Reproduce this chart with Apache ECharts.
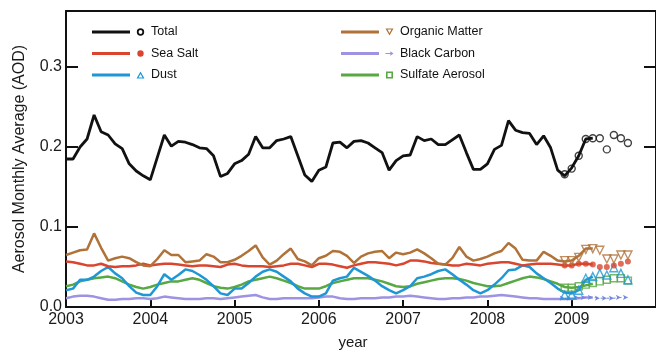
<!DOCTYPE html>
<html>
<head>
<meta charset="utf-8">
<script src="https://cdn.jsdelivr.net/npm/echarts@6/dist/echarts.min.js"></script>
<style>
html,body{margin:0;padding:0;background:#ffffff;}
#chart{width:656px;height:355px;}
</style>
</head>
<body>
<div id="chart"></div>
<script>
// ---- data (monthly, index 0 = Jan 2003) ----
const seriesNames = ['Total', 'Sea Salt', 'Dust', 'Organic Matter', 'Black Carbon', 'Sulfate Aerosol'];
const yearTickLabels = ['2003', '2004', '2005', '2006', '2007', '2008', '2009'];
const firstYear = 2003;
const markerStartIndex = 71; // Dec 2008: start of the marker (preliminary) values

const totalLine = [
  0.185,0.185,0.200,0.210,0.240,0.219,0.215,0.204,0.198,0.179,0.170,0.164,
  0.159,0.187,0.215,0.201,0.207,0.206,0.203,0.199,0.198,0.189,0.163,0.167,
  0.179,0.183,0.191,0.213,0.199,0.199,0.208,0.210,0.213,0.189,0.165,0.157,
  0.171,0.175,0.205,0.206,0.199,0.207,0.208,0.205,0.199,0.193,0.171,0.183,
  0.189,0.190,0.213,0.208,0.210,0.203,0.203,0.209,0.215,0.193,0.172,0.172,
  0.179,0.197,0.202,0.233,0.221,0.218,0.217,0.203,0.214,0.199,0.171,0.164,
  0.174,0.189,0.210,0.211];
const totalMarks = [0.166,0.173,0.189,0.210,0.211,0.211,0.197,0.215,0.211,0.205];

const seaSaltLine = [
  0.057,0.056,0.054,0.052,0.052,0.054,0.051,0.050,0.051,0.051,0.052,0.054,
  0.052,0.053,0.054,0.054,0.053,0.052,0.051,0.052,0.052,0.051,0.050,0.053,
  0.054,0.052,0.051,0.051,0.051,0.050,0.051,0.052,0.054,0.054,0.052,0.050,
  0.054,0.054,0.053,0.051,0.049,0.052,0.054,0.056,0.056,0.055,0.054,0.052,
  0.054,0.058,0.058,0.057,0.055,0.054,0.053,0.052,0.052,0.054,0.053,0.052,
  0.054,0.055,0.056,0.056,0.054,0.052,0.053,0.054,0.054,0.054,0.053,0.052,
  0.052,0.054,0.054,0.053];
const seaSaltMarks = [0.052,0.052,0.054,0.054,0.053,0.050,0.050,0.052,0.054,0.057];

const dustLine = [
  0.021,0.023,0.034,0.034,0.038,0.045,0.050,0.042,0.036,0.026,0.018,0.015,
  0.015,0.026,0.041,0.034,0.040,0.047,0.045,0.040,0.034,0.026,0.017,0.015,
  0.023,0.023,0.030,0.038,0.044,0.047,0.044,0.038,0.032,0.023,0.017,0.013,
  0.013,0.017,0.033,0.036,0.038,0.049,0.044,0.039,0.033,0.026,0.021,0.017,
  0.021,0.026,0.036,0.038,0.041,0.045,0.047,0.041,0.034,0.028,0.021,0.017,
  0.021,0.028,0.036,0.046,0.047,0.052,0.050,0.042,0.036,0.030,0.023,0.018,
  0.017,0.021,0.034,0.038];
const dustMarks = [0.015,0.015,0.021,0.036,0.038,0.042,0.040,0.049,0.042,0.034];

const organicLine = [
  0.065,0.068,0.071,0.072,0.092,0.074,0.058,0.061,0.063,0.061,0.056,0.052,
  0.051,0.060,0.071,0.065,0.065,0.056,0.057,0.058,0.066,0.063,0.056,0.056,
  0.059,0.064,0.070,0.077,0.062,0.053,0.058,0.066,0.073,0.060,0.057,0.052,
  0.061,0.064,0.070,0.069,0.064,0.055,0.063,0.067,0.069,0.070,0.061,0.068,
  0.066,0.068,0.072,0.067,0.061,0.054,0.053,0.061,0.075,0.063,0.058,0.060,
  0.063,0.067,0.070,0.080,0.073,0.059,0.058,0.058,0.069,0.064,0.058,0.057,
  0.058,0.064,0.073,0.073];
const organicMarks = [0.058,0.058,0.062,0.072,0.073,0.071,0.060,0.060,0.065,0.065];

const blackCarbonLine = [
  0.011,0.013,0.014,0.014,0.013,0.011,0.009,0.009,0.010,0.010,0.011,0.011,
  0.010,0.011,0.013,0.012,0.011,0.010,0.010,0.010,0.011,0.011,0.010,0.011,
  0.012,0.013,0.014,0.015,0.012,0.010,0.010,0.011,0.011,0.011,0.011,0.011,
  0.012,0.013,0.013,0.011,0.010,0.010,0.011,0.011,0.011,0.012,0.012,0.013,
  0.013,0.014,0.013,0.012,0.011,0.010,0.010,0.011,0.011,0.012,0.012,0.013,
  0.013,0.014,0.015,0.014,0.013,0.012,0.011,0.011,0.010,0.010,0.010,0.010,
  0.010,0.011,0.012,0.012];
const blackCarbonMarks = [0.011,0.011,0.012,0.012,0.012,0.011,0.011,0.011,0.012,0.012];

const sulfateLine = [
  0.026,0.028,0.032,0.034,0.036,0.037,0.038,0.036,0.032,0.028,0.025,0.023,
  0.025,0.028,0.030,0.032,0.032,0.034,0.036,0.034,0.030,0.026,0.024,0.023,
  0.025,0.028,0.032,0.034,0.036,0.038,0.036,0.033,0.030,0.026,0.023,0.023,
  0.023,0.026,0.030,0.032,0.034,0.036,0.036,0.036,0.034,0.032,0.029,0.026,
  0.025,0.026,0.029,0.031,0.033,0.035,0.036,0.036,0.035,0.033,0.030,0.028,
  0.026,0.026,0.027,0.030,0.033,0.036,0.038,0.037,0.035,0.032,0.029,0.025,
  0.024,0.025,0.027,0.029];
const sulfateMarks = [0.024,0.024,0.026,0.028,0.030,0.032,0.034,0.036,0.036,0.033];

// ---- styling ----
const FONT = "'Liberation Sans', Arial, Helvetica, sans-serif";
const C = {
  total: '#111111', salt: '#d9452f', dust: '#1f97d4',
  organic: '#b07238', bc: '#9d93e2', bcMark: '#7488e0', sulfate: '#58a843'
};

function monthToYear(i) { return firstYear + i / 12; }
function pairs(values, start) { return values.map((v, k) => [monthToYear(start + k), v]); }

// legend icon paths: line segment + marker, width 54 x height 10
const BOX = 'M0,0L0,0M54,10L54,10';
const LINE = 'M0,3.5L38,3.5L38,6.5L0,6.5Z';
const icons = {
  total: 'path://' + BOX + LINE + 'M44.8,5A3.7,3.7 0 1,1 52.2,5A3.7,3.7 0 1,1 44.8,5ZM46.6,5A1.9,1.9 0 1,0 50.4,5A1.9,1.9 0 1,0 46.6,5Z',
  salt: 'path://' + BOX + LINE + 'M45.3,5A3.2,3.2 0 1,1 51.7,5A3.2,3.2 0 1,1 45.3,5Z',
  dust: 'path://' + BOX + LINE + 'M44.5,8.5L48.5,1.5L52.5,8.5ZM46.5,7.4L50.5,7.4L48.5,3.9Z',
  organic: 'path://' + BOX + LINE + 'M44.5,1.5L52.5,1.5L48.5,8.5ZM46.5,2.6L48.5,6.1L50.5,2.6Z',
  bc: 'path://' + BOX + LINE + 'M44.5,4.4L49.3,4.4L49.3,2.8L52.5,5L49.3,7.2L49.3,5.6L44.5,5.6Z',
  sulfate: 'path://' + BOX + LINE + 'M45,1.5L52,1.5L52,8.5L45,8.5ZM46.6,3.1L46.6,6.9L50.4,6.9L50.4,3.1Z'
};

function legendCol(left, items) {
  return {
    orient: 'vertical', left: left, top: 24, padding: 0,
    itemWidth: 54, itemHeight: 10, itemGap: 5.5,
    itemStyle: { borderWidth: 0 },
    textStyle: { fontFamily: FONT, fontSize: 12.5, color: '#111', lineHeight: 16 },
    data: items
  };
}

const lineSeries = (name, data, color, width, z) => ({
  name: name, type: 'line', data: pairs(data, 0), symbol: 'none', showSymbol: false,
  lineStyle: { color: color, width: width }, itemStyle: { color: color }, z: z, silent: true
});
const markSeries = (name, data, symbol, size, style, rotate, z) => ({
  name: name, type: 'scatter', data: pairs(data, markerStartIndex), symbol: symbol,
  symbolSize: size, symbolRotate: rotate || 0, itemStyle: style, z: z, silent: true
});
const hollow = (c) => ({ color: 'rgba(255,255,255,0)', borderColor: c, borderWidth: 1.4 });

const option = {
  animation: false,
  backgroundColor: '#ffffff',
  grid: { left: 66, right: -9, top: 11, bottom: 39, containLabel: false },
  legend: [
    legendCol(92, [
      { name: seriesNames[0], icon: icons.total, itemStyle: { color: C.total } },
      { name: seriesNames[1], icon: icons.salt, itemStyle: { color: C.salt } },
      { name: seriesNames[2], icon: icons.dust, itemStyle: { color: C.dust } }
    ]),
    legendCol(341, [
      { name: seriesNames[3], icon: icons.organic, itemStyle: { color: C.organic } },
      { name: seriesNames[4], icon: icons.bc, itemStyle: { color: C.bc } },
      { name: seriesNames[5], icon: icons.sulfate, itemStyle: { color: C.sulfate } }
    ])
  ],
  xAxis: [
    {
      type: 'value', position: 'bottom', min: 2003, max: 2010, interval: 1,
      axisLine: { show: true, onZero: false, lineStyle: { color: '#111', width: 2 } },
      axisTick: { show: true, inside: true, length: 7, lineStyle: { color: '#111', width: 2 } },
      axisLabel: {
        showMaxLabel: false, margin: 5, fontFamily: FONT, fontSize: 16, color: '#1a1a1a',
        formatter: (v) => { const k = Math.round(v) - firstYear; return yearTickLabels[k] || ''; }
      },
      splitLine: { show: false },
      name: 'year', nameLocation: 'middle', nameGap: 28,
      nameTextStyle: { fontFamily: FONT, fontSize: 15, color: '#1a1a1a', padding: [0, 16, 0, 0] }
    },
    {
      type: 'value', position: 'top', min: 2003, max: 2010, interval: 1,
      axisLine: { show: true, onZero: false, lineStyle: { color: '#111', width: 2 } },
      axisTick: { show: false }, axisLabel: { show: false }, splitLine: { show: false }
    }
  ],
  yAxis: [
    {
      type: 'value', position: 'left', min: 0, max: 0.37, interval: 0.1,
      axisLine: { show: true, onZero: false, lineStyle: { color: '#111', width: 2 } },
      axisTick: { show: true, inside: true, length: 12, lineStyle: { color: '#111', width: 2 } },
      axisLabel: {
        showMaxLabel: false, margin: 4, fontFamily: FONT, fontSize: 16, color: '#1a1a1a',
        formatter: (v) => v.toFixed(1)
      },
      splitLine: { show: false },
      name: 'Aerosol Monthly Average (AOD)', nameLocation: 'middle', nameGap: 38,
      nameTextStyle: { fontFamily: FONT, fontSize: 16, color: '#1a1a1a' }
    },
    {
      type: 'value', position: 'right', min: 0, max: 0.37, interval: 0.1,
      axisLine: { show: true, onZero: false, lineStyle: { color: '#111', width: 2 } },
      axisTick: { show: true, inside: true, length: 12, lineStyle: { color: '#111', width: 2 } },
      axisLabel: { show: false }, splitLine: { show: false }
    }
  ],
  series: [
    lineSeries(seriesNames[4], blackCarbonLine, C.bc, 2.5, 2),
    lineSeries(seriesNames[5], sulfateLine, C.sulfate, 2.5, 3),
    lineSeries(seriesNames[2], dustLine, C.dust, 2.5, 4),
    lineSeries(seriesNames[1], seaSaltLine, C.salt, 2.5, 5),
    lineSeries(seriesNames[3], organicLine, C.organic, 2.5, 6),
    lineSeries(seriesNames[0], totalLine, C.total, 2.8, 7),
    {
      name: seriesNames[4], type: 'line', data: pairs(blackCarbonMarks, markerStartIndex),
      symbol: 'arrow', symbolSize: [4, 5], symbolRotate: -90, showSymbol: true,
      lineStyle: { color: C.bcMark, width: 1, type: [3, 3] }, itemStyle: { color: C.bcMark },
      z: 8, silent: true
    },
    markSeries(seriesNames[5], sulfateMarks, 'rect', 7, hollow(C.sulfate), 0, 8),
    markSeries(seriesNames[2], dustMarks, 'triangle', 8, hollow(C.dust), 0, 8),
    markSeries(seriesNames[1], seaSaltMarks, 'circle', 6, { color: C.salt }, 0, 8),
    markSeries(seriesNames[3], organicMarks, 'triangle', 8, hollow(C.organic), 180, 8),
    markSeries(seriesNames[0], totalMarks, 'circle', 7, hollow(C.total), 0, 9)
  ]
};

const chart = echarts.init(document.getElementById('chart'), null, { renderer: 'canvas' });
chart.setOption(option);
</script>
</body>
</html>
